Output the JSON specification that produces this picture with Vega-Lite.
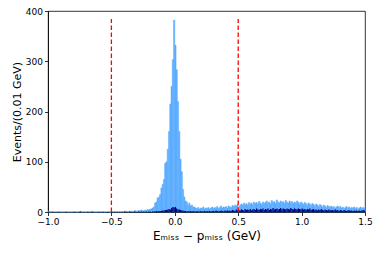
{
"$schema": "https://vega.github.io/schema/vega-lite/v6.json",
"width": 317, "height": 201,
"autosize": "none",
"padding": {"left": 48, "top": 11, "right": 17, "bottom": 42},
"background": "white",
"config": {
  "font": "DejaVu Sans",
  "view": {"stroke": "black", "strokeWidth": 0.8},
  "axis": {"domainColor": "black", "domainWidth": 0.8, "tickColor": "black", "tickWidth": 0.8, "tickSize": 3.5, "labelColor": "black", "labelFontSize": 9, "labelFont": "DejaVu Sans", "labelPadding": 2, "labelFlush": false, "labelOverlap": false, "grid": false, "titleFont": "DejaVu Sans", "titleFontWeight": "normal", "titleFontSize": 11, "titleColor": "black"}
},
"data": {"values": [
{"x":-1.00,"a":2,"b":1},{"x":-0.99,"a":0,"b":0},{"x":-0.98,"a":0,"b":0},{"x":-0.97,"a":1,"b":0},{"x":-0.96,"a":0,"b":0},
{"x":-0.95,"a":0,"b":0},{"x":-0.94,"a":0,"b":0},{"x":-0.93,"a":0,"b":0},{"x":-0.92,"a":1,"b":0},{"x":-0.91,"a":0,"b":0},
{"x":-0.90,"a":0,"b":0},{"x":-0.89,"a":0,"b":0},{"x":-0.88,"a":0,"b":0},{"x":-0.87,"a":0,"b":0},{"x":-0.86,"a":1,"b":0},
{"x":-0.85,"a":0,"b":0},{"x":-0.84,"a":0,"b":0},{"x":-0.83,"a":0,"b":0},{"x":-0.82,"a":0,"b":0},{"x":-0.81,"a":0,"b":0},
{"x":-0.80,"a":1,"b":0},{"x":-0.79,"a":0,"b":0},{"x":-0.78,"a":0,"b":0},{"x":-0.77,"a":0,"b":0},{"x":-0.76,"a":0,"b":0},
{"x":-0.75,"a":1,"b":1},{"x":-0.74,"a":0,"b":0},{"x":-0.73,"a":0,"b":0},{"x":-0.72,"a":0,"b":0},{"x":-0.71,"a":0,"b":0},
{"x":-0.70,"a":0,"b":0},{"x":-0.69,"a":1,"b":0},{"x":-0.68,"a":0,"b":0},{"x":-0.67,"a":0,"b":0},{"x":-0.66,"a":2,"b":0},
{"x":-0.65,"a":1,"b":0},{"x":-0.64,"a":0,"b":0},{"x":-0.63,"a":0,"b":0},{"x":-0.62,"a":0,"b":0},{"x":-0.61,"a":0,"b":0},
{"x":-0.60,"a":1,"b":0},{"x":-0.59,"a":0,"b":0},{"x":-0.58,"a":0,"b":0},{"x":-0.57,"a":1,"b":0},{"x":-0.56,"a":0,"b":0},
{"x":-0.55,"a":0,"b":0},{"x":-0.54,"a":0,"b":0},{"x":-0.53,"a":1,"b":0},{"x":-0.52,"a":0,"b":0},{"x":-0.51,"a":0,"b":0},
{"x":-0.50,"a":1,"b":0},{"x":-0.49,"a":0,"b":0},{"x":-0.48,"a":1,"b":0},{"x":-0.47,"a":0,"b":0},{"x":-0.46,"a":1,"b":0},
{"x":-0.45,"a":0,"b":0},{"x":-0.44,"a":1,"b":0},{"x":-0.43,"a":0,"b":0},{"x":-0.42,"a":1,"b":0},{"x":-0.41,"a":0,"b":0},
{"x":-0.40,"a":1,"b":1},{"x":-0.39,"a":2,"b":0},{"x":-0.38,"a":1,"b":0},{"x":-0.37,"a":0,"b":0},{"x":-0.36,"a":2,"b":1},
{"x":-0.35,"a":1,"b":0},{"x":-0.34,"a":2,"b":0},{"x":-0.33,"a":1,"b":0},{"x":-0.32,"a":3,"b":1},{"x":-0.31,"a":2,"b":0},
{"x":-0.30,"a":2,"b":0},{"x":-0.29,"a":3,"b":1},{"x":-0.28,"a":2,"b":0},{"x":-0.27,"a":4,"b":1},{"x":-0.26,"a":3,"b":0},
{"x":-0.25,"a":2,"b":1},{"x":-0.24,"a":4,"b":0},{"x":-0.23,"a":3,"b":1},{"x":-0.22,"a":5,"b":0},{"x":-0.21,"a":4,"b":1},
{"x":-0.20,"a":6,"b":1},{"x":-0.19,"a":6,"b":0},{"x":-0.18,"a":8,"b":1},{"x":-0.17,"a":10,"b":1},{"x":-0.16,"a":18,"b":1},
{"x":-0.15,"a":20,"b":2},{"x":-0.14,"a":28,"b":1},{"x":-0.13,"a":30,"b":2},{"x":-0.12,"a":35,"b":2},{"x":-0.11,"a":48,"b":2},
{"x":-0.10,"a":55,"b":3},{"x":-0.09,"a":65,"b":3},{"x":-0.08,"a":97,"b":4},{"x":-0.07,"a":100,"b":4},{"x":-0.06,"a":125,"b":5},
{"x":-0.05,"a":160,"b":6},{"x":-0.04,"a":215,"b":5},{"x":-0.03,"a":250,"b":8},{"x":-0.02,"a":303,"b":10},{"x":-0.01,"a":382,"b":9},
{"x":0.00,"a":332,"b":10},{"x":0.01,"a":283,"b":7},{"x":0.02,"a":220,"b":5},{"x":0.03,"a":160,"b":5},{"x":0.04,"a":105,"b":4},
{"x":0.05,"a":80,"b":3},{"x":0.06,"a":45,"b":3},{"x":0.07,"a":30,"b":2},{"x":0.08,"a":22,"b":2},{"x":0.09,"a":20,"b":1},
{"x":0.10,"a":14,"b":2},{"x":0.11,"a":18,"b":1},{"x":0.12,"a":12,"b":2},{"x":0.13,"a":14,"b":1},{"x":0.14,"a":10,"b":2},
{"x":0.15,"a":10,"b":1},{"x":0.16,"a":8,"b":1},{"x":0.17,"a":7,"b":2},{"x":0.18,"a":9,"b":1},{"x":0.19,"a":6,"b":1},
{"x":0.20,"a":8,"b":2},{"x":0.21,"a":7,"b":1},{"x":0.22,"a":10,"b":1},{"x":0.23,"a":6,"b":2},{"x":0.24,"a":8,"b":1},
{"x":0.25,"a":7,"b":2},{"x":0.26,"a":9,"b":1},{"x":0.27,"a":6,"b":2},{"x":0.28,"a":8,"b":1},{"x":0.29,"a":10,"b":2},
{"x":0.30,"a":7,"b":2},{"x":0.31,"a":9,"b":1},{"x":0.32,"a":8,"b":3},{"x":0.33,"a":11,"b":2},{"x":0.34,"a":7,"b":1},
{"x":0.35,"a":9,"b":2},{"x":0.36,"a":12,"b":3},{"x":0.37,"a":8,"b":2},{"x":0.38,"a":10,"b":1},{"x":0.39,"a":9,"b":3},
{"x":0.40,"a":11,"b":2},{"x":0.41,"a":8,"b":3},{"x":0.42,"a":12,"b":2},{"x":0.43,"a":10,"b":3},{"x":0.44,"a":9,"b":2},
{"x":0.45,"a":13,"b":4},{"x":0.46,"a":11,"b":3},{"x":0.47,"a":14,"b":2},{"x":0.48,"a":12,"b":5},{"x":0.49,"a":15,"b":3},
{"x":0.50,"a":10,"b":4},{"x":0.51,"a":13,"b":3},{"x":0.52,"a":16,"b":5},{"x":0.53,"a":14,"b":4},{"x":0.54,"a":18,"b":3},
{"x":0.55,"a":15,"b":6},{"x":0.56,"a":17,"b":4},{"x":0.57,"a":14,"b":5},{"x":0.58,"a":19,"b":4},{"x":0.59,"a":16,"b":6},
{"x":0.60,"a":18,"b":3},{"x":0.61,"a":15,"b":5},{"x":0.62,"a":20,"b":6},{"x":0.63,"a":17,"b":4},{"x":0.64,"a":19,"b":7},
{"x":0.65,"a":16,"b":5},{"x":0.66,"a":21,"b":4},{"x":0.67,"a":18,"b":6},{"x":0.68,"a":15,"b":5},{"x":0.69,"a":20,"b":7},
{"x":0.70,"a":17,"b":4},{"x":0.71,"a":19,"b":6},{"x":0.72,"a":22,"b":5},{"x":0.73,"a":18,"b":7},{"x":0.74,"a":20,"b":4},
{"x":0.75,"a":16,"b":6},{"x":0.76,"a":23,"b":5},{"x":0.77,"a":19,"b":8},{"x":0.78,"a":21,"b":5},{"x":0.79,"a":17,"b":6},
{"x":0.80,"a":24,"b":7},{"x":0.81,"a":20,"b":5},{"x":0.82,"a":18,"b":6},{"x":0.83,"a":22,"b":8},{"x":0.84,"a":19,"b":5},
{"x":0.85,"a":21,"b":7},{"x":0.86,"a":17,"b":6},{"x":0.87,"a":23,"b":5},{"x":0.88,"a":20,"b":7},{"x":0.89,"a":18,"b":6},
{"x":0.90,"a":22,"b":5},{"x":0.91,"a":19,"b":8},{"x":0.92,"a":21,"b":6},{"x":0.93,"a":17,"b":5},{"x":0.94,"a":20,"b":7},
{"x":0.95,"a":18,"b":6},{"x":0.96,"a":22,"b":5},{"x":0.97,"a":19,"b":7},{"x":0.98,"a":16,"b":6},{"x":0.99,"a":20,"b":5},
{"x":1.00,"a":18,"b":7},{"x":1.01,"a":15,"b":5},{"x":1.02,"a":19,"b":6},{"x":1.03,"a":17,"b":4},{"x":1.04,"a":14,"b":6},
{"x":1.05,"a":18,"b":5},{"x":1.06,"a":16,"b":7},{"x":1.07,"a":13,"b":4},{"x":1.08,"a":17,"b":5},{"x":1.09,"a":15,"b":6},
{"x":1.10,"a":12,"b":4},{"x":1.11,"a":16,"b":5},{"x":1.12,"a":14,"b":3},{"x":1.13,"a":11,"b":5},{"x":1.14,"a":15,"b":4},
{"x":1.15,"a":13,"b":6},{"x":1.16,"a":10,"b":4},{"x":1.17,"a":14,"b":3},{"x":1.18,"a":12,"b":5},{"x":1.19,"a":9,"b":4},
{"x":1.20,"a":13,"b":3},{"x":1.21,"a":11,"b":5},{"x":1.22,"a":10,"b":4},{"x":1.23,"a":12,"b":3},{"x":1.24,"a":9,"b":4},
{"x":1.25,"a":11,"b":3},{"x":1.26,"a":8,"b":5},{"x":1.27,"a":10,"b":3},{"x":1.28,"a":12,"b":4},{"x":1.29,"a":9,"b":2},
{"x":1.30,"a":11,"b":4},{"x":1.31,"a":8,"b":3},{"x":1.32,"a":10,"b":2},{"x":1.33,"a":7,"b":4},{"x":1.34,"a":9,"b":3},
{"x":1.35,"a":11,"b":2},{"x":1.36,"a":8,"b":3},{"x":1.37,"a":10,"b":4},{"x":1.38,"a":7,"b":2},{"x":1.39,"a":9,"b":3},
{"x":1.40,"a":8,"b":2},{"x":1.41,"a":10,"b":3},{"x":1.42,"a":7,"b":2},{"x":1.43,"a":9,"b":3},{"x":1.44,"a":6,"b":2},
{"x":1.45,"a":8,"b":3},{"x":1.46,"a":10,"b":2},{"x":1.47,"a":7,"b":3},{"x":1.48,"a":9,"b":4},{"x":1.49,"a":8,"b":3}
]},
"layer": [
  {"transform": [{"calculate": "datum.x + 0.01", "as": "xe"}],
   "mark": {"type": "bar", "color": "#5aacff", "stroke": "#5aacff", "strokeWidth": 0.5, "orient": "vertical"},
   "encoding": {
     "x": {"field": "x", "type": "quantitative", "scale": {"domain": [-1, 1.5], "nice": false, "zero": false, "padding": 0},
           "title": "Eₘᵢₛₛ − pₘᵢₛₛ (GeV)",
           "axis": {"values": [-1, -0.5, 0, 0.5, 1, 1.5], "labelExpr": "replace(format(datum.value, '.1f'), '-', '−')", "titlePadding": 4, "titleFontSize": 12}},
     "x2": {"field": "xe"},
     "y": {"field": "a", "type": "quantitative", "scale": {"domain": [0, 400], "nice": false}, "title": "Events/(0.01 GeV)",
           "axis": {"values": [0, 50, 100, 150, 200, 250, 300, 350, 400], "format": "d", "titlePadding": 3}},
     "y2": {"datum": 0}
   }},
  {"transform": [{"calculate": "datum.x + 0.01", "as": "xe"}],
   "mark": {"type": "bar", "color": "#000080", "orient": "vertical"},
   "encoding": {
     "x": {"field": "x", "type": "quantitative", "title": "Eₘᵢₛₛ − pₘᵢₛₛ (GeV)"},
     "x2": {"field": "xe"},
     "y": {"field": "b", "type": "quantitative", "title": "Events/(0.01 GeV)"},
     "y2": {"datum": 0}
   }},
  {"data": {"values": [{"v": -0.5, "lo": 0, "top": 384}, {"v": 0.5, "lo": 0, "top": 384}]},
   "mark": {"type": "rule", "color": "#ff0000", "strokeDash": [4.5, 2.5], "strokeWidth": 1.3},
   "encoding": {
     "x": {"field": "v", "type": "quantitative", "title": "Eₘᵢₛₛ − pₘᵢₛₛ (GeV)"},
     "y": {"field": "lo", "type": "quantitative", "title": "Events/(0.01 GeV)"},
     "y2": {"field": "top"}
   }}
]
}
